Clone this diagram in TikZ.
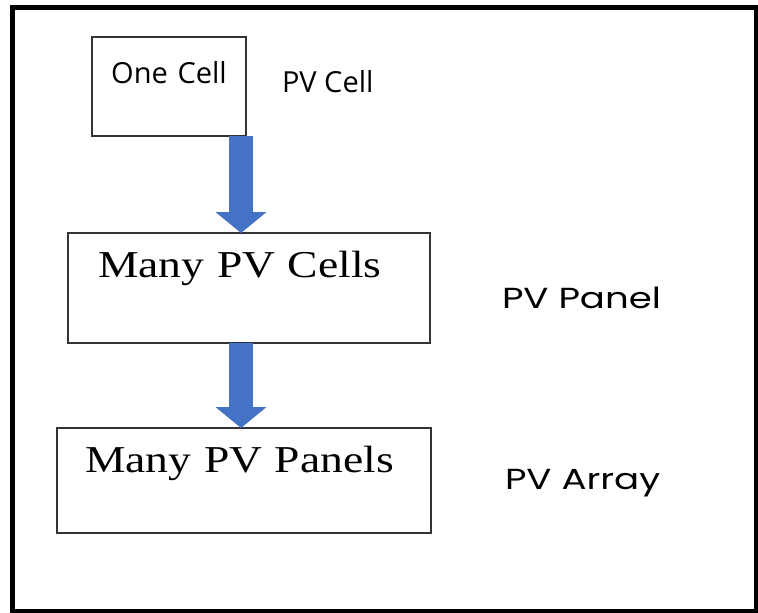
\documentclass[tikz,border=0pt]{standalone}
\usepackage{fontspec}
\usepackage{tikz}
\usetikzlibrary{positioning,arrows.meta}
\setmainfont{Open Sans}
\newfontfamily\boxserif[FakeStretch=1.2]{Liberation Serif}
\newfontfamily\tagsans[FakeStretch=1.28]{Poppins}
\definecolor{boxline}{HTML}{333333}
\definecolor{flowblue}{HTML}{4472C4}

\begin{document}
\begin{tikzpicture}[
  x=1pt, y=-1pt,
  every node/.style={inner sep=0pt, outer sep=0pt},
  box/.style={
    rectangle, draw=boxline, line width=1.8pt, fill=white,
    anchor=north west, inner ysep=0pt, align=left,
  },
  sanstext/.style ={font=\fontsize{29}{31}\selectfont},
  seriftext/.style={font=\boxserif\fontsize{38}{40}\selectfont},
  tag/.style      ={font=\tagsans\fontsize{29}{31}\selectfont, anchor=base west},
  flow/.style     ={draw=flowblue, line width=24pt, -{Triangle[width=50pt, length=21pt]}},
]

% ── Canvas and outer frame ──
\useasboundingbox (0,0) rectangle (758,613);
\draw[line width=5pt] (12.5,7.5) rectangle (756,611);

% ── Boxes (text sits near the top edge) ──
\node[box, sanstext, text width=130pt, inner xsep=12pt, align=center,
      text height=46pt, text depth=53pt] (one) at (92,37) {One Cell};
\node[box, seriftext, text width=302pt, inner xsep=30pt,
      text height=44pt, text depth=66pt] (cells) at (68,233) {Many PV Cells};
\node[box, seriftext, text width=318pt, inner xsep=28pt,
      text height=44pt, text depth=61pt] (panels) at (57,428) {Many PV Panels};

% ── Level tags (right side) ──
\node[tag, sanstext] (tcell)  at (282,92)  {PV Cell};
\node[tag]           (tpanel) at (502,308) {PV Panel};
\node[tag]           (tarray) at (505,489) {PV Array};

% ── Block arrows ──
\coordinate (ax) at (241,0);
\draw[flow] (one.south -| ax)   -- (cells.north -| ax);
\draw[flow] (cells.south -| ax) -- (panels.north -| ax);

\end{tikzpicture}
\end{document}
